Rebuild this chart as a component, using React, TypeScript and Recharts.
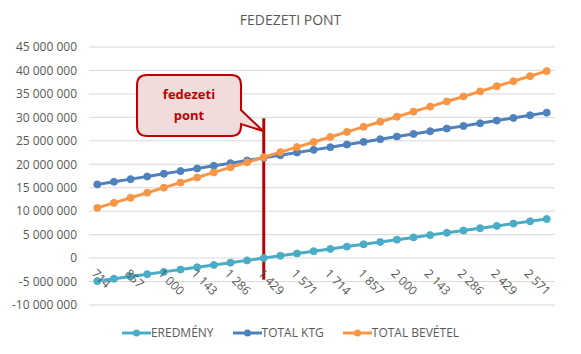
import React from "react";
import {
  CartesianGrid,
  Line,
  LineChart,
  ReferenceLine,
  XAxis,
  YAxis,
} from "recharts";

const quantities = [
  714, 786, 857, 929, 1000, 1071, 1143, 1214, 1286, 1357, 1429, 1500, 1571, 1643,
  1714, 1786, 1857, 1929, 2000, 2071, 2143, 2214, 2286, 2357, 2429, 2500, 2571, 2643,
];

const eredmeny = [
  -4900000, -4410000, -3920000, -3430000, -2940000, -2450000, -1960000, -1470000,
  -980000, -490000, 0, 490000, 980000, 1470000, 1960000, 2450000, 2940000, 3430000,
  3920000, 4410000, 4900000, 5390000, 5880000, 6370000, 6860000, 7350000, 7840000,
  8330000,
];

const totalKtg = [
  15700000, 16270000, 16830000, 17400000, 17970000, 18540000, 19100000, 19670000,
  20240000, 20800000, 21370000, 21940000, 22500000, 23070000, 23640000, 24210000,
  24770000, 25340000, 25910000, 26470000, 27040000, 27610000, 28170000, 28740000,
  29310000, 29880000, 30440000, 31010000,
];

const totalBevetel = [
  10700000, 11780000, 12860000, 13940000, 15020000, 16100000, 17180000, 18260000,
  19340000, 20420000, 21500000, 22580000, 23660000, 24740000, 25820000, 26900000,
  27980000, 29060000, 30140000, 31220000, 32300000, 33380000, 34460000, 35540000,
  36620000, 37700000, 38780000, 39860000,
];

const yTicks = [
  -10000000, -5000000, 0, 5000000, 10000000, 15000000, 20000000, 25000000, 30000000,
  35000000, 40000000, 45000000,
];

// fedezeti pont: marker line from/to these values
const breakEvenLabel = "1 429";
const markerTop = 29800000;
const markerBottom = -4600000;

const series = [
  { key: "eredmeny", name: "EREDMÉNY", color: "#4BACC6" },
  { key: "ktg", name: "TOTAL KTG", color: "#4F81BD" },
  { key: "bevetel", name: "TOTAL BEVÉTEL", color: "#F79646" },
];

const fmt = (v: number) =>
  (v < 0 ? "-" : "") + Math.abs(Math.round(v)).toString().replace(/\B(?=(\d{3})+(?!\d))/g, " ");

const data = quantities.map((q, i) => ({
  label: fmt(q),
  eredmeny: eredmeny[i],
  ktg: totalKtg[i],
  bevetel: totalBevetel[i],
}));

const FONT = "'Open Sans', sans-serif";
const GREY = "#595959";

function XTick(props: any) {
  const { x, y, payload } = props;
  return (
    <g transform={`translate(${x + 1},${y - 38})`}>
      <text
        transform="rotate(45)"
        textAnchor="start"
        dominantBaseline="hanging"
        fontSize={12}
        fill={GREY}
        fontFamily={FONT}
      >
        {payload.value}
      </text>
    </g>
  );
}

export default function App() {
  return (
    <div
      style={{
        position: "absolute",
        left: 0,
        top: 0,
        width: 581,
        height: 354,
        background: "#fff",
        fontFamily: FONT,
      }}
    >
      <div
        style={{
          position: "absolute",
          top: 10,
          width: 581,
          textAlign: "center",
          fontSize: 14,
          color: GREY,
        }}
      >
        FEDEZETI PONT
      </div>
      <LineChart
        width={581}
        height={354}
        data={data}
        margin={{ top: 47, right: 26, bottom: 0, left: 0 }}
      >
        <CartesianGrid vertical={false} stroke="#D9D9D9" />
        <XAxis
          dataKey="label"
          interval={1}
          height={49}
          axisLine={false}
          tickLine={false}
          tickSize={0}
          tickMargin={0}
          padding={{ left: 8.3, right: 8.3 }}
          tick={<XTick />}
        />
        <YAxis
          width={89}
          domain={[-10000000, 45000000]}
          ticks={yTicks}
          tickFormatter={fmt}
          axisLine={false}
          tickLine={false}
          tickSize={0}
          tickMargin={12}
          tick={{ fill: GREY, fontSize: 12, fontFamily: FONT }}
        />
        {series.map((s) => (
          <Line
            key={s.key}
            type="linear"
            dataKey={s.key}
            name={s.name}
            stroke={s.color}
            strokeWidth={3}
            dot={{ r: 3.5, fill: s.color, stroke: s.color, strokeWidth: 1 }}
            isAnimationActive={false}
          />
        ))}
        <ReferenceLine
          segment={[
            { x: breakEvenLabel, y: markerTop },
            { x: breakEvenLabel, y: markerBottom },
          ]}
          stroke="#C00000"
          strokeWidth={3}
        />
      </LineChart>
      <svg
        width={581}
        height={354}
        style={{ position: "absolute", left: 0, top: 0, pointerEvents: "none" }}
      >
        <path
          d="M147,75 H231 Q241,75 241,85 V110 L263,131 L241,124 V126 Q241,136 231,136 H147 Q137,136 137,126 V85 Q137,75 147,75 Z"
          fill="#F2DCDB"
          stroke="#C00000"
          strokeWidth={2}
        />
        <text x={189} y={99} textAnchor="middle" fontSize={13} fontWeight="bold" fill="#C00000" fontFamily={FONT}>
          fedezeti
        </text>
        <text x={189} y={120} textAnchor="middle" fontSize={13} fontWeight="bold" fill="#C00000" fontFamily={FONT}>
          pont
        </text>
      </svg>
      <div
        style={{
          position: "absolute",
          top: 324,
          width: 581,
          display: "flex",
          justifyContent: "center",
          gap: 19,
          fontSize: 12,
          color: GREY,
        }}
      >
        {series.map((s) => (
          <div key={s.key} style={{ display: "flex", alignItems: "center" }}>
            <svg width={29} height={16}>
              <line x1={0} y1={8} x2={29} y2={8} stroke={s.color} strokeWidth={3} />
              <circle cx={14.5} cy={8} r={3.5} fill={s.color} />
            </svg>
            <span>{s.name}</span>
          </div>
        ))}
      </div>
    </div>
  );
}
